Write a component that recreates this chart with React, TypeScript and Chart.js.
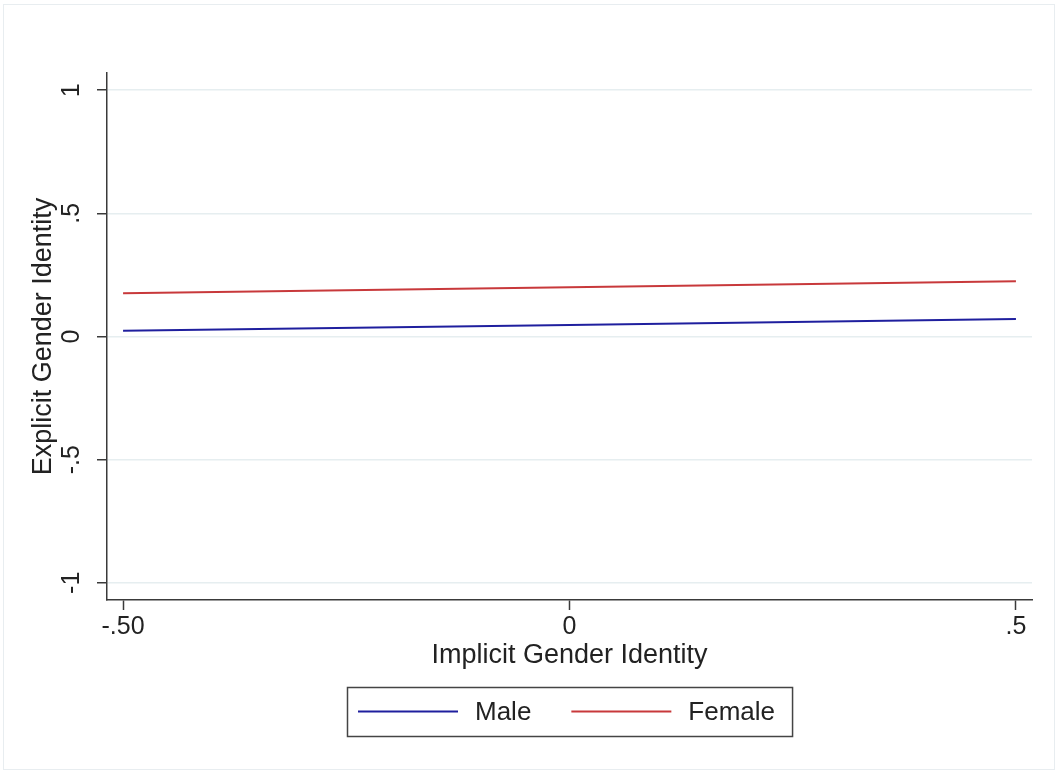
import React, { useEffect, useRef } from "react";
import { Chart, registerables } from "chart.js";

Chart.register(...registerables);

const xValues = [-0.5, 0, 0.5];
const maleValues = [0.023, 0.047, 0.071];
const femaleValues = [0.176, 0.2, 0.224];
const seriesLabels = ["Male", "Female"];
const seriesColors = ["#1f1f9e", "#c8393b"];

const xTicks = [-0.5, 0, 0.5];
const xTickLabels = ["-.50", "0", ".5"];
const yTicks = [-1, -0.5, 0, 0.5, 1];
const yTickLabels = ["-1", "-.5", "0", ".5", "1"];

const xTitle = "Implicit Gender Identity";
const yTitle = "Explicit Gender Identity";

const FONT = "'Liberation Sans', Arial, Helvetica, sans-serif";
const TEXT = "#222222";
const AXIS = "#3a3a3a";
const GRID = "#e6eef0";

const frameAndLegend = {
  id: "frameAndLegend",
  beforeDraw(chart: any) {
    const ctx = chart.ctx;
    ctx.save();
    ctx.fillStyle = "#ffffff";
    ctx.fillRect(0, 0, chart.width, chart.height);
    ctx.strokeStyle = "#e8edf0";
    ctx.lineWidth = 1;
    ctx.strokeRect(3.5, 4.5, chart.width - 7, chart.height - 8);
    ctx.restore();
  },
  afterDraw(chart: any) {
    const ctx = chart.ctx;
    const area = chart.chartArea;
    ctx.save();
    ctx.font = `26px ${FONT}`;
    const lineLen = 100;
    const gapText = 17;
    const gapItems = 40;
    const padL = 11;
    const padR = 17;
    const items = chart.data.datasets.map((d: any) => ({
      label: d.label,
      color: d.borderColor,
      w: ctx.measureText(d.label).width,
    }));
    let total = padL + padR;
    items.forEach((it: any, i: number) => {
      total += lineLen + gapText + it.w + (i > 0 ? gapItems : 0);
    });
    const cx = (area.left + area.right) / 2;
    const boxLeft = Math.round(cx - total / 2);
    const boxTop = 687;
    const boxH = 49;
    const midY = boxTop + boxH / 2;
    ctx.fillStyle = "#ffffff";
    ctx.fillRect(boxLeft, boxTop, total, boxH);
    ctx.strokeStyle = "#444444";
    ctx.lineWidth = 1.5;
    ctx.strokeRect(boxLeft + 0.5, boxTop + 0.5, total, boxH);
    let x = boxLeft + padL;
    items.forEach((it: any, i: number) => {
      if (i > 0) x += gapItems;
      ctx.strokeStyle = it.color;
      ctx.lineWidth = 2;
      ctx.beginPath();
      ctx.moveTo(x, midY);
      ctx.lineTo(x + lineLen, midY);
      ctx.stroke();
      x += lineLen + gapText;
      ctx.fillStyle = TEXT;
      ctx.textBaseline = "middle";
      ctx.textAlign = "left";
      ctx.fillText(it.label, x, midY + 1);
      x += it.w;
    });
    ctx.restore();
  },
};

export default function App() {
  const canvasRef = useRef<HTMLCanvasElement | null>(null);

  useEffect(() => {
    if (!canvasRef.current) return;
    const mk = (vals: number[]) => xValues.map((x, i) => ({ x, y: vals[i] }));
    const chart = new Chart(canvasRef.current, {
      type: "line",
      data: {
        datasets: [
          {
            label: seriesLabels[0],
            data: mk(maleValues),
            borderColor: seriesColors[0],
            backgroundColor: seriesColors[0],
            borderWidth: 2,
            pointRadius: 0,
            tension: 0,
          },
          {
            label: seriesLabels[1],
            data: mk(femaleValues),
            borderColor: seriesColors[1],
            backgroundColor: seriesColors[1],
            borderWidth: 2,
            pointRadius: 0,
            tension: 0,
          },
        ],
      },
      options: {
        animation: false,
        responsive: false,
        devicePixelRatio: 1,
        layout: { padding: { top: 73, right: 26, bottom: 101, left: 0 } },
        plugins: {
          legend: { display: false },
          tooltip: { enabled: false },
        },
        scales: {
          x: {
            type: "linear",
            position: "bottom",
            min: -0.518,
            max: 0.518,
            afterBuildTicks: (scale: any) => {
              scale.ticks = xTicks.map((v) => ({ value: v }));
            },
            afterFit: (scale: any) => {
              scale.height = 72;
            },
            ticks: {
              color: TEXT,
              font: { family: FONT, size: 25, lineHeight: 1.2 },
              padding: 2,
              maxRotation: 0,
              autoSkip: false,
              callback: (_v: any, i: number) => xTickLabels[i],
            },
            grid: {
              drawOnChartArea: false,
              drawTicks: true,
              tickLength: 10,
              tickColor: AXIS,
              tickWidth: 1.5,
            },
            border: { display: true, color: AXIS, width: 1.5 },
            title: {
              display: true,
              text: xTitle,
              color: TEXT,
              font: { family: FONT, size: 27, lineHeight: 1.2 },
              padding: { top: 0, bottom: 0 },
            },
          },
          y: {
            type: "linear",
            position: "left",
            min: -1.07,
            max: 1.07,
            afterBuildTicks: (scale: any) => {
              scale.ticks = yTicks.map((v) => ({ value: v }));
            },
            afterFit: (scale: any) => {
              scale.width = 107;
            },
            ticks: {
              color: TEXT,
              font: { family: FONT, size: 25, lineHeight: 1.2 },
              padding: 10,
              minRotation: 90,
              maxRotation: 90,
              crossAlign: "center",
              autoSkip: false,
              callback: (_v: any, i: number) => yTickLabels[i],
            },
            grid: {
              color: GRID,
              lineWidth: 1.5,
              drawOnChartArea: true,
              drawTicks: true,
              tickLength: 10,
              tickColor: AXIS,
              tickWidth: 1.5,
            },
            border: { display: true, color: AXIS, width: 1.5 },
            title: {
              display: true,
              text: yTitle,
              color: TEXT,
              font: { family: FONT, size: 27, lineHeight: 1.2 },
              padding: { top: 27, bottom: 0 },
            },
          },
        },
      },
      plugins: [frameAndLegend],
    } as any);
    return () => chart.destroy();
  }, []);

  return (
    <div style={{ position: "absolute", left: 0, top: 0, width: 1058, height: 773 }}>
      <canvas ref={canvasRef} width={1058} height={773} style={{ display: "block" }} />
    </div>
  );
}
